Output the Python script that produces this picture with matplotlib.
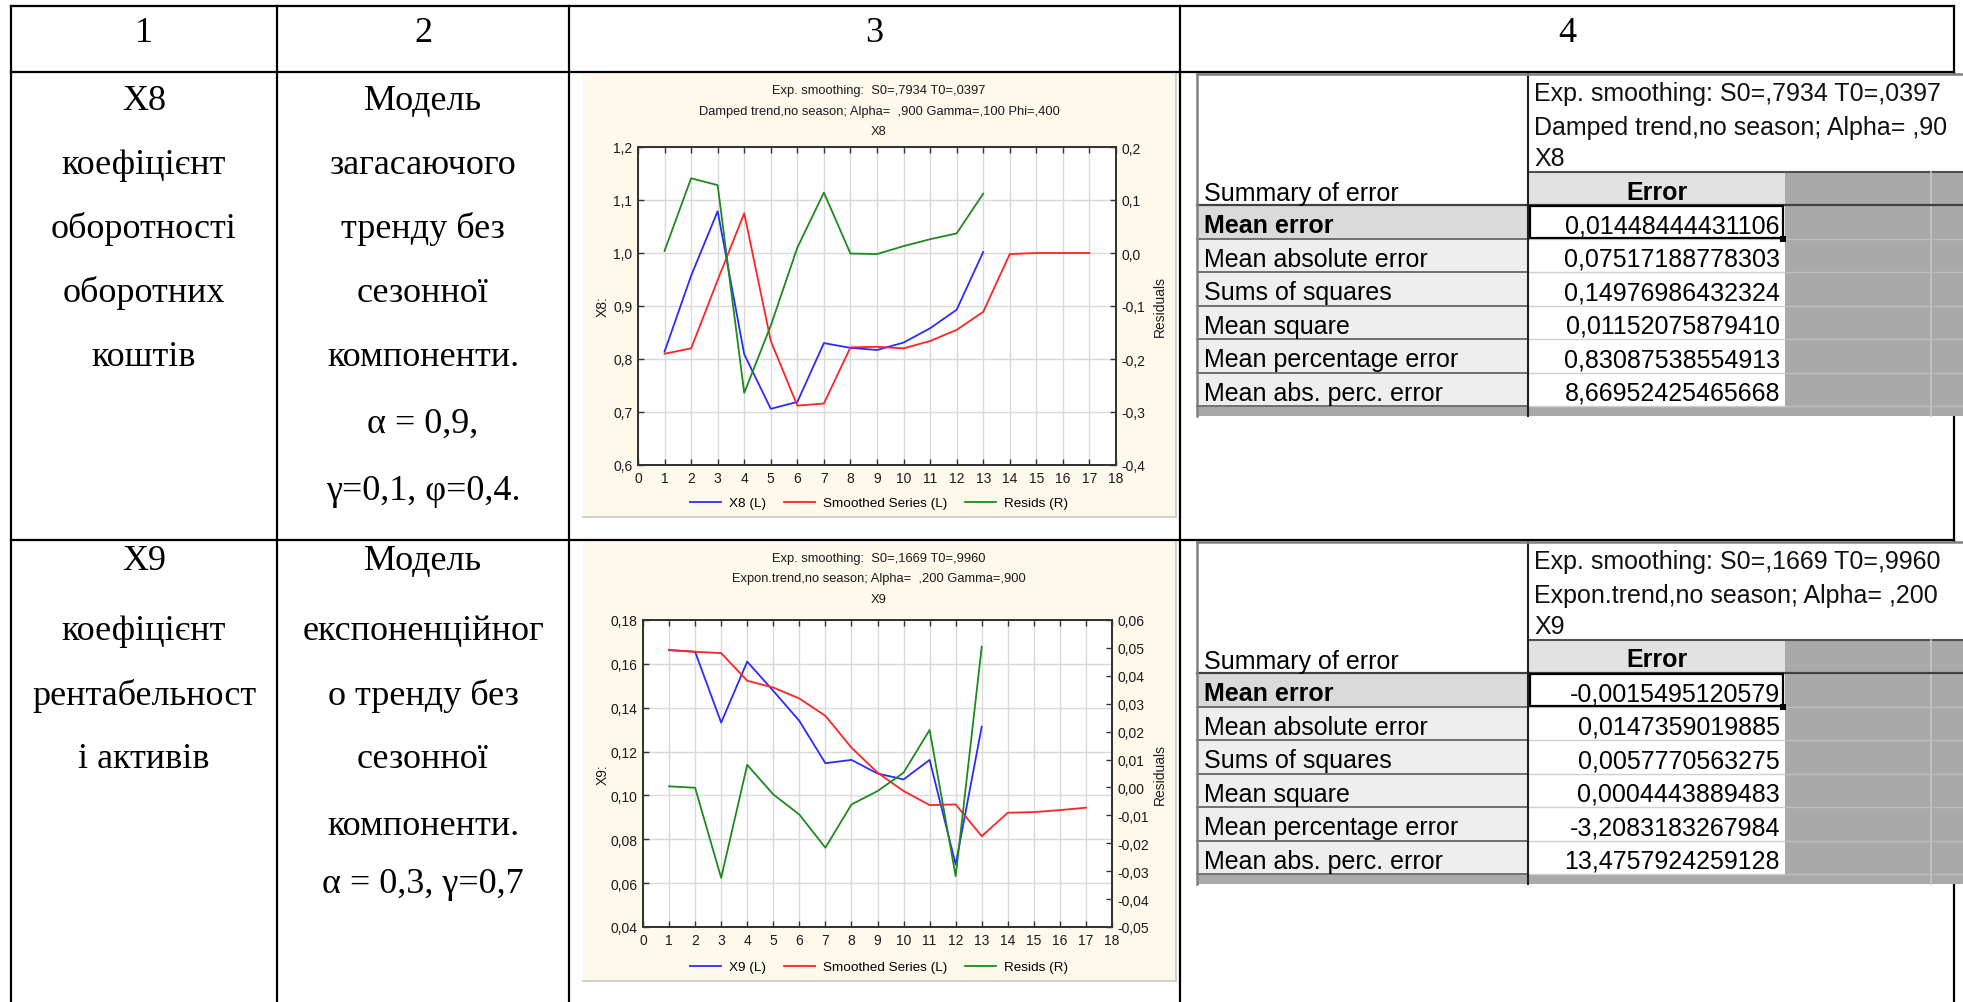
import matplotlib
matplotlib.use('Agg')
import matplotlib.pyplot as plt
from matplotlib.patches import Rectangle
from matplotlib.lines import Line2D
from matplotlib.ticker import FuncFormatter

W, H = 1963, 1003

# ---- data ----
header_nums = ['1', '2', '3', '4']

row1_col1 = ['X8', 'коефіцієнт', 'оборотності', 'оборотних', 'коштів']
row1_col2 = ['Модель', 'загасаючого', 'тренду без', 'сезонної', 'компоненти.',
             'α = 0,9,', 'γ=0,1, φ=0,4.']
row2_col1 = ['X9', 'коефіцієнт', 'рентабельност', 'і активів']
row2_col2 = ['Модель', 'експоненційног', 'о тренду без', 'сезонної',
             'компоненти.', 'α = 0,3, γ=0,7']

x_obs = list(range(1, 14))
x_fc = list(range(1, 18))

x8_vals = [0.814, 0.957, 1.079, 0.809, 0.706, 0.719, 0.830, 0.821, 0.817,
           0.831, 0.858, 0.893, 1.002]
x8_smooth = [0.810, 0.820, 0.949, 1.075, 0.834, 0.712, 0.716, 0.822, 0.823,
             0.820, 0.834, 0.855, 0.889, 0.998, 1.000, 1.000, 1.000]
x8_resid = [0.004, 0.141, 0.128, -0.264, -0.137, 0.010, 0.114, -0.001, -0.002,
            0.013, 0.026, 0.037, 0.112]

x9_vals = [0.1663, 0.1655, 0.1332, 0.1610, 0.1477, 0.1340, 0.1147, 0.1162,
           0.1100, 0.1073, 0.1162, 0.0685, 0.1313]
x9_smooth = [0.1663, 0.1655, 0.1649, 0.1523, 0.1492, 0.1442, 0.1363, 0.1218,
             0.1104, 0.1020, 0.0956, 0.0959, 0.0814, 0.0921, 0.0924, 0.0933, 0.0944]
x9_resid = [0.0004, -0.0001, -0.0324, 0.0081, -0.0025, -0.0097, -0.0216,
            -0.0061, -0.0013, 0.0053, 0.0206, -0.0318, 0.0504]

x8_titles = ['Exp. smoothing:  S0=,7934 T0=,0397',
             'Damped trend,no season; Alpha=  ,900 Gamma=,100 Phi=,400', 'X8']
x9_titles = ['Exp. smoothing:  S0=,1669 T0=,9960',
             'Expon.trend,no season; Alpha=  ,200 Gamma=,900', 'X9']

err_labels = ['Mean error', 'Mean absolute error', 'Sums of squares',
              'Mean square', 'Mean percentage error', 'Mean abs. perc. error']
x8_errors = ['0,01448444431106', '0,07517188778303', '0,14976986432324',
             '0,01152075879410', '0,83087538554913', '8,66952425465668']
x9_errors = ['-0,0015495120579', '0,0147359019885', '0,0057770563275',
             '0,0004443889483', '-3,2083183267984', '13,4757924259128']
x8_head = ['Exp. smoothing: S0=,7934 T0=,0397',
           'Damped trend,no season; Alpha= ,90', 'X8']
x9_head = ['Exp. smoothing: S0=,1669 T0=,9960',
           'Expon.trend,no season; Alpha= ,200', 'X9']

fig = plt.figure(figsize=(W / 100, H / 100), dpi=100)
fig.patch.set_facecolor('white')


def fx(x):
    return x / W


def fy(y):
    return 1 - y / H


def rect(x0, y0, x1, y1, fc, ec='none', lw=0, z=1):
    r = Rectangle((fx(x0), fy(y1)), (x1 - x0) / W, (y1 - y0) / H,
                  transform=fig.transFigure, facecolor=fc, edgecolor=ec,
                  linewidth=lw, zorder=z)
    fig.add_artist(r)
    return r


def line(x0, y0, x1, y1, color='black', lw=1.5, z=5):
    fig.add_artist(Line2D([fx(x0), fx(x1)], [fy(y0), fy(y1)],
                          transform=fig.transFigure, color=color, lw=lw,
                          zorder=z, solid_capstyle='projecting'))


# ---- outer document table ----
serif = ['Liberation Serif', 'DejaVu Serif']
for xc, s in zip([144, 423, 874, 1567], header_nums):
    fig.text(fx(xc), fy(34), s, ha='center', va='center', fontsize=26,
             family=serif)

for y in [7, 73, 541]:
    line(11, y, 1954, y, lw=1.6)
for x in [11, 277, 569, 1180]:
    line(x, 7, x, 1003, lw=1.6)
line(1954, 7, 1954, 1003, lw=1.6, z=0.5)

for base, s in zip([110, 174, 238, 302, 366], row1_col1):
    fig.text(fx(144), fy(base), s, ha='center', va='baseline', fontsize=26, family=serif)
for base, s in zip([110, 174, 238, 302, 366, 433, 500], row1_col2):
    fig.text(fx(423), fy(base), s, ha='center', va='baseline', fontsize=26, family=serif)
for base, s in zip([570, 640, 705, 768], row2_col1):
    fig.text(fx(144), fy(base), s, ha='center', va='baseline', fontsize=26, family=serif)
for base, s in zip([570, 640, 705, 768, 835, 893], row2_col2):
    fig.text(fx(423), fy(base), s, ha='center', va='baseline', fontsize=26, family=serif)


# ---- STATISTICA style charts ----
sans = ['Liberation Sans', 'DejaVu Sans']


def comma_fmt(dec):
    def f(v, pos):
        if abs(v) < 1e-9:
            v = 0.0
        return f'{v:.{dec}f}'.replace('.', ',')
    return FuncFormatter(f)


def draw_chart(top, bottom, plot_box, titles, yname, obs, smooth, resid,
               lticks, rticks, dec, legend_y):
    rect(583, top, 1176, bottom, '#FFF9EC', z=-2)
    line(583, bottom, 1176, bottom, color='#C8C8C8', lw=1.2, z=-1)
    line(1176, top, 1176, bottom, color='#C8C8C8', lw=1.2, z=-1)

    for i, t in enumerate(titles):
        fig.text(fx(879), fy(top + 16 + i * 20.5), t, ha='center',
                 va='center', fontsize=9.3, family=sans, color='#1A1A1A')

    l, t, r, b = plot_box
    ax = fig.add_axes([fx(l), fy(b), (r - l) / W, (b - t) / H])
    ax.set_facecolor('white')
    ax.plot(x_obs, obs, color='#2B2BFF', lw=1.3, label=f'{yname} (L)')
    ax.plot(x_fc, smooth, color='#FF2424', lw=1.3, label='Smoothed Series (L)')
    ax.set_xlim(0, 18)
    ax.set_xticks(range(19))
    ax.set_ylim(lticks[0], lticks[-1])
    ax.set_yticks(lticks)
    ax.yaxis.set_major_formatter(comma_fmt(dec))
    ax.grid(True, color='#D9D9D9', lw=1.0)
    ax.set_axisbelow(True)
    ax.tick_params(direction='in', length=4, width=1, labelsize=10,
                   top=True, colors='#333333', labelcolor='#1A1A1A', pad=4)
    for s in ax.spines.values():
        s.set_color('#333333')
        s.set_linewidth(1.3)
    for lab in ax.get_xticklabels() + ax.get_yticklabels():
        lab.set_family(sans)

    ax2 = ax.twinx()
    ax2.plot(x_obs, resid, color='#1E8A1E', lw=1.3, label='Resids (R)')
    ax2.set_ylim(rticks[0], rticks[-1])
    ax2.set_yticks(rticks)
    ax2.yaxis.set_major_formatter(comma_fmt(dec))
    ax2.tick_params(direction='in', length=4, width=1, labelsize=10,
                    colors='#333333', labelcolor='#1A1A1A', pad=4)
    for s in ax2.spines.values():
        s.set_color('#333333')
        s.set_linewidth(1.3)
    for lab in ax2.get_yticklabels():
        lab.set_family(sans)

    yc = (t + b) / 2
    fig.text(fx(603), fy(yc), f'{yname}:', rotation=90, ha='center',
             va='center', fontsize=10, family=sans, color='#1A1A1A')
    fig.text(fx(1160), fy(yc), 'Residuals', rotation=90, ha='center',
             va='center', fontsize=10, family=sans, color='#1A1A1A')

    h1, l1 = ax.get_legend_handles_labels()
    h2, l2 = ax2.get_legend_handles_labels()
    fig.legend(h1 + h2, l1 + l2, loc='center',
               bbox_to_anchor=(fx(879), fy(legend_y)), ncol=3, frameon=False,
               prop={'family': sans, 'size': 9.7}, handlelength=2.3,
               columnspacing=1.3, handletextpad=0.6)


draw_chart(75, 518, (638, 148, 1116, 466), x8_titles, 'X8',
           x8_vals, x8_smooth, x8_resid,
           [0.6, 0.7, 0.8, 0.9, 1.0, 1.1, 1.2],
           [-0.4, -0.3, -0.2, -0.1, 0.0, 0.1, 0.2], 1, 504)
draw_chart(543, 982, (643, 621, 1112, 928), x9_titles, 'X9',
           x9_vals, x9_smooth, x9_resid,
           [0.04, 0.06, 0.08, 0.10, 0.12, 0.14, 0.16, 0.18],
           [-0.05, -0.04, -0.03, -0.02, -0.01, 0.0, 0.01, 0.02, 0.03, 0.04,
            0.05, 0.06], 2, 968)


# ---- spreadsheet style error summaries ----
def error_table(top, head, values):
    L, M, V, R = 1197, 1528, 1785, 1963
    step = 33.5
    rows_top = top + 131
    rows_bot = rows_top + 6 * step
    end = rows_bot + 10
    clip = rect(L, top, R, end, 'white', z=2)

    for off, s in zip([17, 50, 81], head):
        t = fig.text(fx(1534), fy(top + off), s, ha='left',
                     va='center_baseline', fontsize=18, family=sans,
                     color='#111111', zorder=4)
        t.set_clip_path(clip)
    line(M, top + 98, R, top + 98, color='#505050', lw=1.5, z=4)

    rect(M, top + 98, V, rows_top, '#E2E2E2', z=3)
    fig.text(fx((M + V) / 2), fy(top + 115), 'Error', ha='center',
             va='center_baseline', fontsize=18, fontweight='bold',
             family=sans, zorder=4)
    rect(V, top + 98, R, end, '#A9A9A9', z=3)
    line(1931, top + 98, 1931, end, color='#C6C6C6', lw=1.2, z=4)
    fig.text(fx(1204), fy(top + 117), 'Summary of error', ha='left',
             va='center_baseline', fontsize=18, family=sans, zorder=4)

    for i, (lab, val) in enumerate(zip(err_labels, values)):
        y0 = rows_top + i * step
        rect(L, y0, M, y0 + step, '#DADADA' if i == 0 else '#EEEEEE', z=3)
        rect(M, y0, V, y0 + step, 'white', z=3)
        fig.text(fx(1204), fy(y0 + step / 2 + 1), lab, ha='left',
                 va='center_baseline', fontsize=18, family=sans,
                 fontweight='bold' if i == 0 else 'normal', zorder=4)
        fig.text(fx(1780), fy(y0 + step / 2 + 1), val, ha='right',
                 va='center_baseline', fontsize=18, family=sans, zorder=4)
        line(L, y0 + step, M, y0 + step, color='#707070', lw=1.4, z=4)
        line(M, y0 + step, V, y0 + step, color='#D0D0D0', lw=1.0, z=4)
        line(V, y0 + step, R, y0 + step, color='#BEBEBE', lw=1.0, z=4)

    rect(L, rows_bot, R, end, '#A9A9A9', z=3)
    line(L, rows_top, R, rows_top, color='#404040', lw=1.6, z=4)
    line(M, top, M, end, color='#202020', lw=1.5, z=4)
    line(L, top, L, end, color='#808080', lw=1.8, z=4)
    line(L, top, R, top, color='#808080', lw=1.8, z=4)
    # active cell frame
    rect(M + 2, rows_top + 1, V - 2, rows_top + step - 1, 'none',
         ec='black', lw=1.6, z=5)
    rect(V - 5, rows_top + step - 3, V + 1, rows_top + step + 3, 'black', z=5)


error_table(75, x8_head, x8_errors)
error_table(543, x9_head, x9_errors)

fig.savefig('out.png', dpi=100, facecolor='white')
